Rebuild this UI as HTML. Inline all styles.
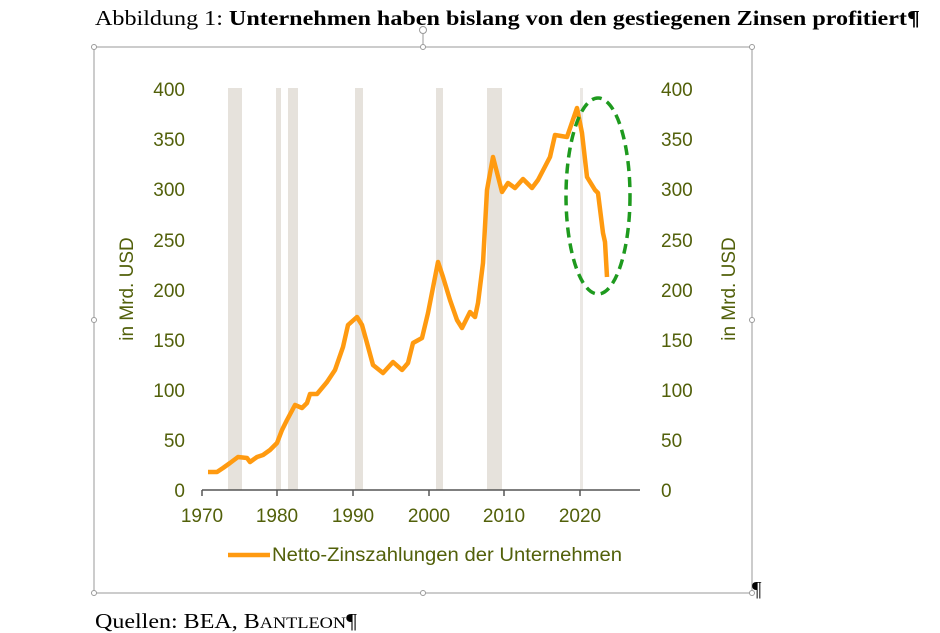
<!DOCTYPE html>
<html><head><meta charset="utf-8"><style>
body{margin:0;background:#fff;width:940px;height:633px;overflow:hidden}
svg{display:block}
</style></head><body>
<svg width="940" height="633" xmlns="http://www.w3.org/2000/svg">
<text x="95" y="25" font-family="Liberation Serif, serif" font-size="21" fill="#000" textLength="825" lengthAdjust="spacingAndGlyphs">Abbildung 1: <tspan font-weight="bold">Unternehmen haben bislang von den gestiegenen Zinsen profitiert¶</tspan></text>
<g stroke="#999" stroke-width="1" fill="#fff">
<rect x="94" y="47" width="658" height="546" fill="none"/>
<line x1="423" y1="30" x2="423" y2="47"/>
<circle cx="94" cy="47" r="2.5"/><circle cx="423" cy="47" r="2.5"/><circle cx="752" cy="47" r="2.5"/>
<circle cx="94" cy="320" r="2.5"/><circle cx="752" cy="320" r="2.5"/>
<circle cx="94" cy="593" r="2.5"/><circle cx="423" cy="593" r="2.5"/><circle cx="752" cy="593" r="2.5"/>
<circle cx="423" cy="30" r="3.5"/>
</g>
<g fill="#e6e2dc">
<rect x="228" y="88" width="14" height="402"/>
<rect x="276" y="88" width="5" height="402"/>
<rect x="288" y="88" width="10" height="402"/>
<rect x="355" y="88" width="8" height="402"/>
<rect x="436" y="88" width="7" height="402"/>
<rect x="487" y="88" width="15" height="402"/>
<rect x="580" y="88" width="3" height="402" fill="#ebe8e4"/>
</g>
<g font-family="Liberation Sans, sans-serif" font-size="19" fill="#52600a">
<g text-anchor="end">
<text x="185" y="96">400</text><text x="185" y="146">350</text><text x="185" y="196">300</text><text x="185" y="247">250</text><text x="185" y="297">200</text><text x="185" y="347">150</text><text x="185" y="397">100</text><text x="185" y="447">50</text><text x="185" y="497">0</text>
</g>
<text x="661" y="96">400</text><text x="661" y="146">350</text><text x="661" y="196">300</text><text x="661" y="247">250</text><text x="661" y="297">200</text><text x="661" y="347">150</text><text x="661" y="397">100</text><text x="661" y="447">50</text><text x="661" y="497">0</text>
<g text-anchor="middle">
<text x="202" y="522">1970</text><text x="277" y="522">1980</text><text x="353" y="522">1990</text><text x="429" y="522">2000</text><text x="504" y="522">2010</text><text x="580" y="522">2020</text>
</g>
<text transform="translate(133,289) rotate(-90)" text-anchor="middle">in Mrd. USD</text>
<text transform="translate(735,289) rotate(-90)" text-anchor="middle">in Mrd. USD</text>
</g>
<g stroke="#555" stroke-width="1.5">
<line x1="202" y1="490" x2="640" y2="490"/>
<line x1="202" y1="490" x2="202" y2="496"/><line x1="277" y1="490" x2="277" y2="496"/><line x1="353" y1="490" x2="353" y2="496"/><line x1="429" y1="490" x2="429" y2="496"/><line x1="504" y1="490" x2="504" y2="496"/><line x1="580" y1="490" x2="580" y2="496"/>
</g>
<polyline fill="none" stroke="#ff9a10" stroke-width="4.5" stroke-linejoin="round" points="208,472 217,472 223,468 230,463 238,457 247,458 250,462 257,457 263,455 270,450 277,443 282,430 287,420 295,405 302,408 307,403 310,394 317,394 327,382 335,370 343,347 348,325 357,317 362,325 367,343 373,365 383,373 393,362 402,370 408,363 413,343 422,338 428,313 438,262 443,277 450,300 457,320 462,328 470,312 475,317 478,303 483,263 487,190 493,157 502,192 508,183 515,188 523,179 532,188 538,180 550,157 555,135 567,137 577,108 582,133 587,177 595,190 598,193 603,233 605,242 607,277"/>
<ellipse cx="598" cy="196" rx="32" ry="98" fill="none" stroke="#1e9a1e" stroke-width="3.5" stroke-dasharray="10,6"/>
<line x1="228" y1="555" x2="270" y2="555" stroke="#ff9a10" stroke-width="4.5"/>
<text x="272" y="561" font-family="Liberation Sans, sans-serif" font-size="19" fill="#52600a" textLength="350" lengthAdjust="spacingAndGlyphs">Netto-Zinszahlungen der Unternehmen</text>
<text x="752" y="596" font-family="Liberation Serif, serif" font-size="21" fill="#000">¶</text>
<text x="95" y="628" font-family="Liberation Serif, serif" font-size="21" fill="#000" textLength="262" lengthAdjust="spacingAndGlyphs">Quellen: BEA, B<tspan font-size="16">ANTLEON</tspan>¶</text>
</svg>
</body></html>
